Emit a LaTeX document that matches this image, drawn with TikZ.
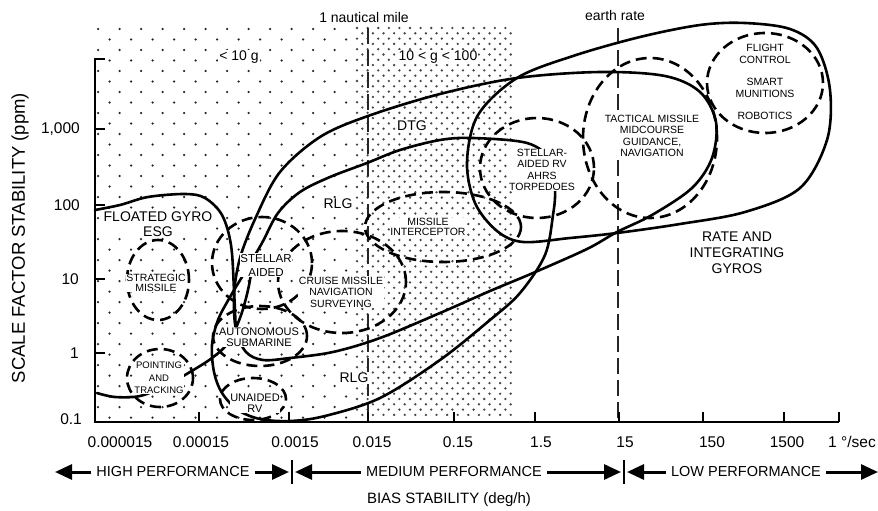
\documentclass[tikz,border=0pt]{standalone}
\usepackage{fontspec}
\setmainfont{Liberation Sans}
\usetikzlibrary{arrows.meta}
\newcommand{\fs}[2]{\fontsize{#1}{#2}\selectfont}
\begin{document}
\begin{tikzpicture}[x=1pt,y=-1pt,
  solidc/.style={line width=2.6pt, line join=round, line cap=round},
  dashc/.style={line width=2.6pt, dash pattern=on 11pt off 6pt},
  refline/.style={line width=1.3pt, dash pattern=on 16pt off 6pt, black!85},
  axisl/.style={line width=1.5pt},
  lab/.style={font=\fs{14}{15}, fill=white, inner sep=1pt, align=center},
  slab/.style={font=\fs{10.5}{11.5}, fill=white, inner sep=0.5pt, align=center},
  ticklab/.style={font=\fs{15.5}{17}, inner sep=0pt},
  perf/.style={font=\fs{14.5}{16}, inner sep=5pt},
  parrow/.style={line width=3pt, -{Triangle[length=17pt,width=15pt]}},
  bar/.style={line width=1.8pt}]
\useasboundingbox (0,0) rectangle (878,511);
\fill[white] (0,0) rectangle (878,511);
% sparse dots
\foreach \r in {0,...,18}{
  \foreach \c in {0,...,11}{
    \fill[black!85] (98+21.5*\c, 29+21*\r) circle (1.25pt);
    \fill[black!85] (109.5+21.5*\c, 39.5+21*\r) circle (1.25pt);
  }}
% dense dots
\foreach \r in {0,...,36}{
  \foreach \c in {0,...,14}{
    \fill[black!72] (357+10.6*\c, 28+10.6*\r) circle (1.3pt);
    \fill[black!72] (362.3+10.6*\c, 33.3+10.6*\r) circle (1.3pt);
  }}
% reference lines
\draw[refline] (368,28) -- (368,422);
\draw[refline] (618,28) -- (618,422);
% axes
\draw[axisl] (105,59) -- (95,59) -- (95,422) -- (839,422);
\foreach \y in {129,205,279,353} \draw[axisl] (95,\y) -- (105,\y);
\foreach \x in {199,289,368,454,535,619,703,784,839} \draw[axisl] (\x,422) -- (\x,412);
% tick labels
\node[ticklab, anchor=east] (y1000) at (80,129) {1,000};
\node[ticklab, anchor=east] (y100) at (80,205) {100};
\node[ticklab, anchor=east] (y10) at (79,279) {10};
\node[ticklab, anchor=east] (y1) at (79,353) {1};
\node[ticklab, anchor=east] (y01) at (82,419) {0.1};
\node[ticklab] (x1) at (120,442) {0.000015};
\node[ticklab] (x2) at (201,442) {0.00015};
\node[ticklab] (x3) at (295,442) {0.0015};
\node[ticklab] (x4) at (372,442) {0.015};
\node[ticklab] (x5) at (458,442) {0.15};
\node[ticklab] (x6) at (541,442) {1.5};
\node[ticklab] (x7) at (625,442) {15};
\node[ticklab] (x8) at (712,442) {150};
\node[ticklab] (x9) at (787,442) {1500};
\node[ticklab] (x10) at (852,442) {1 °/sec};
% solid curves
\draw[solidc] plot[smooth, tension=0.55] coordinates {(95,210) (120,205) (148,197) (185,194) (205,198) (222,215) (231,245) (234,290) (236,335)};
\draw[solidc] plot[smooth cycle, tension=0.55] coordinates {(236,330) (234,295) (240,258) (256,217) (280,172) (320,137) (368,116) (440,94) (517,78) (600,72) (665,76) (700,92) (716,122) (712,158) (692,188) (652,215) (617,232) (587,249) (533,273) (490,291) (440,313) (380,338) (333,352) (290,358) (263,360) (246,352)};
\draw[solidc] plot[smooth cycle, tension=0.55] coordinates {(527,143) (473,138) (440,140) (400,150) (367,163) (330,177) (300,192) (278,213) (262,243) (245,272) (230,297) (218,320) (212,345) (214,372) (222,393) (238,410) (260,419) (290,421) (325,416) (380,398) (440,360) (490,320) (520,293) (545,255) (553,215) (555,190) (550,160)};
\draw[solidc] plot[smooth, tension=0.55] coordinates {(97,393) (115,397) (140,396) (165,386) (190,372) (212,358) (228,343) (240,318) (248,290) (253,262)};
\draw[solidc] plot[smooth cycle, tension=0.55] coordinates {(517,78) (573,56) (640,37) (700,25) (745,23) (790,29) (817,48) (830,90) (827,140) (800,188) (745,212) (680,224) (617,233) (570,238) (523,242) (497,231) (475,203) (467,162) (478,115)};
% dashed regions
\draw[dashc] (158,280) ellipse [x radius=31pt, y radius=40pt];
\draw[dashc] (160,378) ellipse [x radius=33pt, y radius=29pt];
\draw[dashc] (253,399) ellipse [x radius=33pt, y radius=21pt];
\draw[dashc] (260,336) ellipse [x radius=47pt, y radius=30pt];
\draw[dashc] (262,263) ellipse [x radius=50pt, y radius=46pt];
\draw[dashc] (342,282) ellipse [x radius=64pt, y radius=51pt];
\draw[dashc] (443,227) ellipse [x radius=78pt, y radius=35pt];
\draw[dashc] (537,168) ellipse [x radius=57pt, y radius=50pt];
\draw[dashc] (650,138) ellipse [x radius=67pt, y radius=80pt];
\draw[dashc] (765,83) ellipse [x radius=58pt, y radius=50pt];
% labels
\node[font=\fs{14}{15}] (nm) at (364,17) {1 nautical mile};
\node[font=\fs{14}{15}] (er) at (615,15) {earth rate};
\node[lab] (lt10) at (239,57) {< 10 g};
\node[lab] (g100) at (438,57) {10 < g < 100};
\node[lab] (fg) at (158,224) {FLOATED GYRO\\ESG};
\node[lab] (rlg1) at (338,204) {RLG};
\node[lab] (rlg2) at (354,378) {RLG};
\node[lab] (dtg) at (412,126) {DTG};
\node[lab, font=\fs{14}{16}] (rate) at (737,253) {RATE AND\\INTEGRATING\\GYROS};
\node[slab, font=\fs{10.5}{10.5}] (strat) at (156,283) {STRATEGIC\\MISSILE};
\node[slab, font=\fs{9.5}{12.5}] (pt) at (159,378) {POINTING\\AND\\TRACKING};
\node[slab, font=\fs{11.5}{14}] (sa) at (266,265) {STELLAR\\AIDED};
\node[slab] (cm) at (341,292) {CRUISE MISSILE\\NAVIGATION\\SURVEYING};
\node[slab, font=\fs{10.5}{10.5}] (mi) at (428,227) {MISSILE\\INTERCEPTOR};
\node[slab, font=\fs{11}{10.5}] (as) at (259,337) {AUTONOMOUS\\SUBMARINE};
\node[slab, font=\fs{11}{10.5}] (ur) at (255,403) {UNAIDED\\RV};
\node[slab] (srv) at (542,170) {STELLAR-\\AIDED RV\\AHRS\\TORPEDOES};
\node[slab] (tm) at (652,136) {TACTICAL MISSILE\\MIDCOURSE\\GUIDANCE,\\NAVIGATION};
\node[slab, font=\fs{10.5}{12}] (fc) at (765,54) {FLIGHT\\CONTROL};
\node[slab, font=\fs{10.5}{12}] (sm) at (765,88) {SMART\\MUNITIONS};
\node[slab] (rb) at (765,116) {ROBOTICS};
% axis titles
\node[rotate=90, font=\fs{18.5}{20}] (ylab) at (20,238) {SCALE FACTOR STABILITY (ppm)};
\node[font=\fs{15}{17}] (xlab) at (449,500) {BIAS STABILITY (deg/h)};
% performance arrows
\node[perf] (hp) at (173,472) {HIGH PERFORMANCE};
\node[perf] (mp) at (454,472) {MEDIUM PERFORMANCE};
\node[perf] (lp) at (746,472) {LOW PERFORMANCE};
\coordinate (hpL) at (55,472);
\coordinate (hpR) at (289,472);
\coordinate (mpL) at (295,472);
\coordinate (mpR) at (621,472);
\coordinate (lpL) at (627,472);
\coordinate (lpR) at (878,472);
\draw[bar] (292,460) -- (292,484);
\draw[bar] (624,460) -- (624,484);
\draw[parrow] (hp.west) -- (hpL);
\draw[parrow] (hp.east) -- (hpR);
\draw[parrow] (mp.west) -- (mpL);
\draw[parrow] (mp.east) -- (mpR);
\draw[parrow] (lp.west) -- (lpL);
\draw[parrow] (lp.east) -- (lpR);
\end{tikzpicture}
\end{document}
